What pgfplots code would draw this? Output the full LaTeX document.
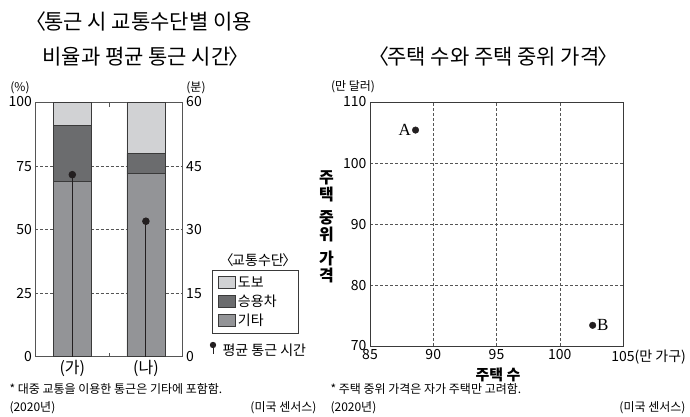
\documentclass[border=0pt]{standalone}
\usepackage{fontspec}
\usepackage{pgfplots}
\pgfplotsset{compat=1.18}
\setmainfont{Noto Sans CJK KR}
\newfontfamily\serifA{Liberation Serif}
\definecolor{cWalk}{HTML}{D1D2D4}
\definecolor{cCar}{HTML}{6B6C6E}
\definecolor{cOther}{HTML}{939497}
\definecolor{cEdge}{HTML}{3A3A3A}
\definecolor{cAxis}{HTML}{555555}
\definecolor{cGrid}{HTML}{555555}
\definecolor{cDot}{HTML}{231F20}
\pgfplotsset{/pgf/number format/assume math mode=true}
\newcommand{\fs}[1]{\fontsize{#1}{#1}\selectfont}
\newcommand{\lb}{〈\kern-0.1em}
\newcommand{\rb}{\kern-0.1em〉}
\begin{document}
\begin{tikzpicture}
\useasboundingbox (0pt,0pt) rectangle (690pt,417pt);
% titles
\node[anchor=west,font=\fs{21}] at (22pt,395pt) {\lb 통근 시 교통수단별 이용};
\node[anchor=west,font=\fs{21}] at (39pt,360pt) {비율과 평균 통근 시간\rb};
\node[anchor=west,font=\fs{21}] at (365pt,360pt) {\lb 주택 수와 주택 중위 가격\rb};

\begin{axis}[
  at={(35.5pt,60.3pt)}, anchor=south west, scale only axis,
  width=147.2pt, height=254pt,
  xmin=-0.5, xmax=1.5, ymin=0, ymax=100,
  ybar stacked, bar width=38pt,
  xtick={0,1}, xticklabels={\raisebox{-5pt}{(가)},\raisebox{-5pt}{(나)}},
  x tick label style={font=\fs{16}},
  major tick length=0pt,
  extra x ticks={0.5}, extra x tick labels={},
  extra x tick style={major tick length=4pt, tick align=inside, tick style={draw=cAxis}},
  ytick={0,25,50,75,100},
  yticklabels={0,25,50,75,\raisebox{3pt}{100}},
  y tick label style={font=\fs{14}},
  ymajorgrids, grid style={cGrid, dash pattern=on 3pt off 2pt, line width=0.5pt},
  axis line style={cAxis, line width=0.8pt},
  legend image code/.code={\draw[#1] (0pt,-5.5pt) rectangle (17pt,6pt);},
  reverse legend,
  legend cell align=left,
  legend style={at={(1.199,0.340)}, anchor=north west, draw=cEdge, line width=0.6pt,
    font=\fs{14}, row sep=2pt, inner xsep=6pt, inner ysep=4pt},
  clip=false,
]
\addplot[fill=cOther, draw=cEdge, line width=0.7pt] coordinates {(0,69) (1,72)};
\addplot[fill=cCar, draw=cEdge, line width=0.7pt] coordinates {(0,22) (1,8)};
\addplot[fill=cWalk, draw=cEdge, line width=0.7pt] coordinates {(0,9) (1,20)};
\legend{\makebox[52pt][l]{기타},\makebox[52pt][l]{승용차},\makebox[52pt][l]{도보}}
\end{axis}

\begin{axis}[
  at={(35.5pt,60.3pt)}, anchor=south west, scale only axis,
  width=147.2pt, height=254pt,
  xmin=-0.5, xmax=1.5, ymin=0, ymax=60,
  axis x line=none, axis y line*=right,
  ytick={0,15,30,45,60}, major tick length=0pt,
  yticklabels={0,15,30,45,\raisebox{3pt}{60}},
  y tick label style={font=\fs{14}},
  axis line style={cAxis, line width=0.8pt},
]
\addplot[ycomb, color=cDot, line width=0.9pt, mark=*, mark size=3.3pt] coordinates {(0,43) (1,32)};
\end{axis}

\node[font=\fs{12}] at (20pt,329pt) {(\%)};
\node[font=\fs{12}] at (196pt,329pt) {(분)};
% legend title and lollipop key
\node[font=\fs{14}] at (258pt,157pt) {\lb 교통수단\rb};
\draw[cDot, line width=0.9pt] (213pt,63pt) -- (213pt,72pt);
\fill[cDot] (213pt,72pt) circle (3.2pt);
\node[anchor=west,font=\fs{14}] at (219pt,67pt) {평균 통근 시간};

\begin{axis}[
  at={(370pt,71pt)}, anchor=south west, scale only axis,
  width=253pt, height=243.3pt,
  xmin=85, xmax=105, ymin=70, ymax=110,
  xtick={85,90,95,100,105}, xticklabels={85,90,95,100,105\rlap{(만 가구)}},
  ytick={70,80,90,100,110},
  yticklabels={\raisebox{2pt}{70},80,90,100,\raisebox{3pt}{110}},
  tick label style={font=\fs{14}},
  major tick length=0pt,
  grid=major, grid style={cGrid, dash pattern=on 3pt off 2pt, line width=0.5pt},
  axis line style={cEdge, line width=0.8pt},
  xlabel={주택 수}, xlabel style={font=\bfseries\fs{15}, at={(axis description cs:0.506,-0.118)}, anchor=center},
  ylabel={\shortstack{주\\[-1pt]택\\[6pt]중\\[-1pt]위\\[6pt]가\\[-1pt]격}},
  ylabel style={font=\bfseries\fs{16}, rotate=-90, at={(axis description cs:-0.172,0.49)}, anchor=center},
  clip=false,
]
\addplot[only marks, mark=*, mark size=3.3pt, color=cDot,
  nodes near coords={\serifA A}, nodes near coords style={anchor=east, font=\fs{17}, text=black, xshift=-1pt}]
  coordinates {(88.6,105.5)};
\addplot[only marks, mark=*, mark size=3.3pt, color=cDot,
  nodes near coords={\serifA B}, nodes near coords style={anchor=west, font=\fs{17}, text=black, xshift=1pt}]
  coordinates {(102.6,73.4)};
\end{axis}
\node[font=\fs{12}] at (353pt,330pt) {(만 달러)};

% footnotes
\node[anchor=west,font=\fs{12}] at (6pt,28pt) {* 대중 교통을 이용한 통근은 기타에 포함함.};
\node[anchor=west,font=\fs{12}] at (6pt,9pt) {(2020년)};
\node[anchor=east,font=\fs{12}] at (320pt,9pt) {(미국 센서스)};
\node[anchor=west,font=\fs{12}] at (327pt,28pt) {* 주택 중위 가격은 자가 주택만 고려함.};
\node[anchor=west,font=\fs{12}] at (327pt,9pt) {(2020년)};
\node[anchor=east,font=\fs{12}] at (689pt,9pt) {(미국 센서스)};
\end{tikzpicture}
\end{document}
